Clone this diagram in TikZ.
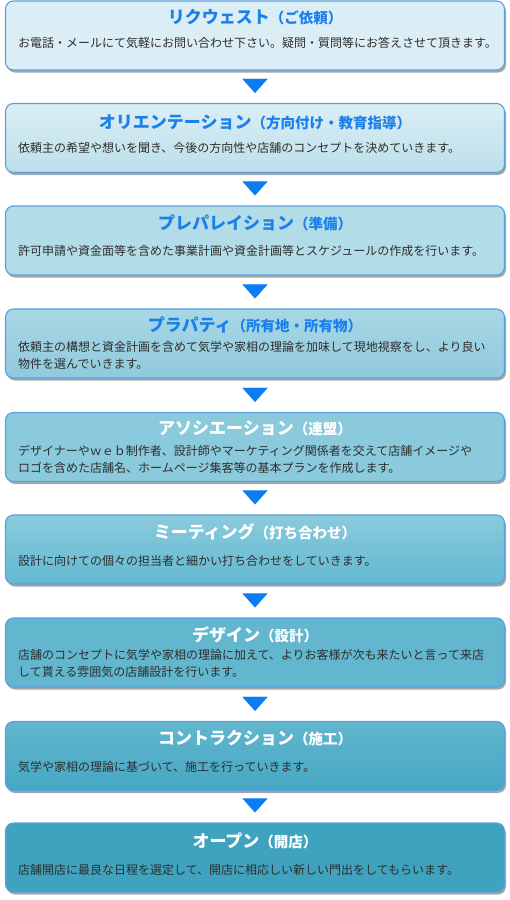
\documentclass[tikz,border=0pt]{standalone}
\usepackage{fontspec}
\usepackage{xcolor}
\usepackage{tikz}
\usetikzlibrary{arrows.meta,positioning,calc,shadows}
\newfontfamily\jp{Noto Sans CJK JP}

\definecolor{boxline}{HTML}{5A9FE0}
\definecolor{titleblue}{HTML}{1A80EA}
\definecolor{flowblue}{HTML}{0A7DF2}
\definecolor{desctext}{HTML}{2E2E2E}
\definecolor{cA}{HTML}{DCEEF5}
\definecolor{cB}{HTML}{BBDFEA}
\definecolor{cC}{HTML}{B3DCE9}
\definecolor{cD}{HTML}{90CADD}
\definecolor{cE}{HTML}{8ACADC}
\definecolor{cF}{HTML}{63B9D0}
\definecolor{cG}{HTML}{62B6CE}
\definecolor{cH}{HTML}{46A7C3}
\definecolor{cI}{HTML}{3FA3BF}

\tikzset{
  stepbox/.style={rectangle, rounded corners=8pt, draw=boxline, line width=1.1pt,
    minimum width=499pt, minimum height=69pt, inner sep=0pt,
    drop shadow={shadow xshift=1.5pt, shadow yshift=-2.5pt, fill=black, opacity=0.35}},
  steptitle/.style={font=\jp\bfseries\fontsize{17}{20}\selectfont, inner sep=0pt},
  stepdesc/.style={font=\jp\fontsize{12}{17}\selectfont, text=desctext, anchor=west,
    align=left, inner sep=0pt},
  flowarrow/.style={flowblue, line width=0.01pt, shorten <=9pt, shorten >=10pt,
    -{Triangle[width=25pt,length=14pt]}}
}
\newcommand{\sub}[1]{{\fontsize{14.5}{17}\selectfont #1}}

\begin{document}
\begin{tikzpicture}[x=1pt,y=-1pt]
  \useasboundingbox (0,0) rectangle (510,900);

  % boxes
  \node[stepbox, top color=cA, bottom color=cA] (s1) at (255,35.5) {};
  \node[stepbox, top color=cA, bottom color=cB] (s2) at (255,138) {};
  \node[stepbox, top color=cC, bottom color=cC] (s3) at (255,240.5) {};
  \node[stepbox, top color=cC!70!cD, bottom color=cD] (s4) at (255,343.5) {};
  \node[stepbox, top color=cE, bottom color=cE] (s5) at (255,447) {};
  \node[stepbox, top color=cE, bottom color=cF] (s6) at (255,549.5) {};
  \node[stepbox, top color=cG, bottom color=cG] (s7) at (255,652.5) {};
  \node[stepbox, top color=cG, bottom color=cH] (s8) at (255,756) {};
  \node[stepbox, top color=cI, bottom color=cI] (s9) at (255,857.5) {};

  % titles
  \node[steptitle, text=titleblue] (t1) at ($(s1.north)+(0,17)$) {リクウェスト\sub{（ご依頼）}};
  \node[steptitle, text=titleblue] (t2) at ($(s2.north)+(0,19)$) {オリエンテーション\sub{（方向付け・教育指導）}};
  \node[steptitle, text=titleblue] (t3) at ($(s3.north)+(0,17)$) {プレパレイション\sub{（準備）}};
  \node[steptitle, text=titleblue] (t4) at ($(s4.north)+(0,16)$) {プラパティ\sub{（所有地・所有物）}};
  \node[steptitle, text=white] (t5) at ($(s5.north)+(0,16)$) {アソシエーション\sub{（連盟）}};
  \node[steptitle, text=white] (t6) at ($(s6.north)+(0,17)$) {ミーティング\sub{（打ち合わせ）}};
  \node[steptitle, text=white] (t7) at ($(s7.north)+(0,17)$) {デザイン\sub{（設計）}};
  \node[steptitle, text=white] (t8) at ($(s8.north)+(0,17)$) {コントラクション\sub{（施工）}};
  \node[steptitle, text=white] (t9) at ($(s9.north)+(0,18)$) {オープン\sub{（開店）}};

  % descriptions
  \node[stepdesc] (d1) at ($(s1.north west)+(13,42)$) {お電話・メールにて気軽にお問い合わせ下さい。疑問・質問等にお答えさせて頂きます。};
  \node[stepdesc] (d2) at ($(s2.north west)+(13,45)$) {依頼主の希望や想いを聞き、今後の方向性や店舗のコンセプトを決めていきます。};
  \node[stepdesc] (d3) at ($(s3.north west)+(13,45)$) {許可申請や資金面等を含めた事業計画や資金計画等とスケジュールの作成を行います。};
  \node[stepdesc] (d4) at ($(s4.north west)+(13,47)$) {依頼主の構想と資金計画を含めて気学や家相の理論を加味して現地視察をし、より良い\\物件を選んでいきます。};
  \node[stepdesc] (d5) at ($(s5.north west)+(13,47)$) {デザイナーやｗｅｂ制作者、設計師やマーケティング関係者を交えて店舗イメージや\\ロゴを含めた店舗名、ホームページ集客等の基本プランを作成します。};
  \node[stepdesc] (d6) at ($(s6.north west)+(13,46)$) {設計に向けての個々の担当者と細かい打ち合わせをしていきます。};
  \node[stepdesc] (d7) at ($(s7.north west)+(13,46)$) {店舗のコンセプトに気学や家相の理論に加えて、よりお客様が次も来たいと言って来店\\して貰える雰囲気の店舗設計を行います。};
  \node[stepdesc] (d8) at ($(s8.north west)+(13,46)$) {気学や家相の理論に基づいて、施工を行っていきます。};
  \node[stepdesc] (d9) at ($(s9.north west)+(13,47)$) {店舗開店に最良な日程を選定して、開店に相応しい新しい門出をしてもらいます。};

  % arrows
  \foreach \a/\b in {s1/s2,s2/s3,s3/s4,s4/s5,s5/s6,s6/s7,s7/s8,s8/s9}
    \draw[flowarrow] (\a.south) -- (\b.north);
\end{tikzpicture}
\end{document}
